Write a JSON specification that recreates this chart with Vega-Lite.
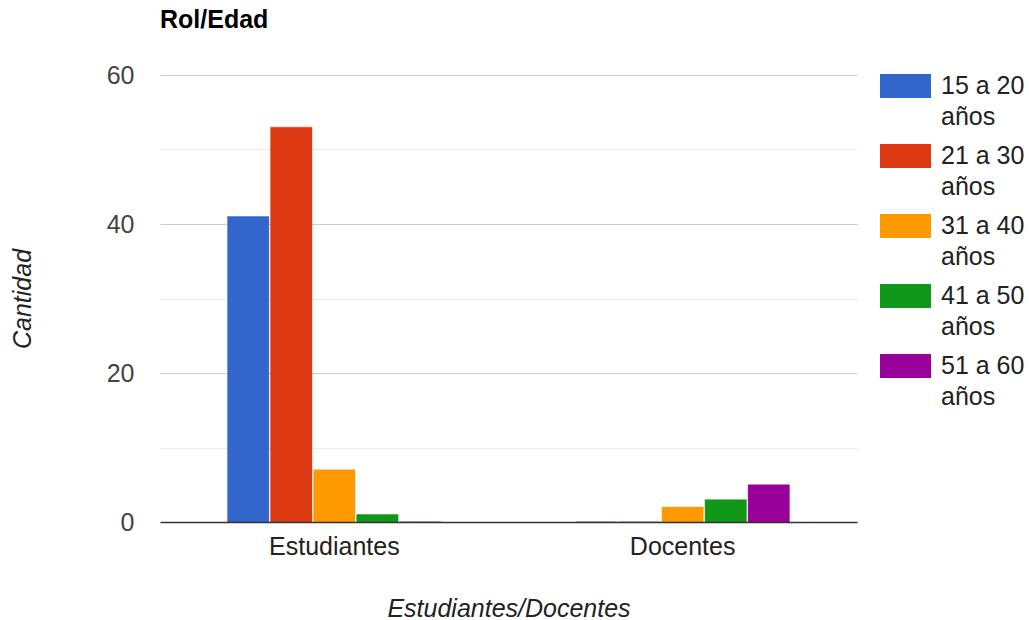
{
  "$schema": "https://vega.github.io/schema/vega-lite/v6.json",
  "width": 697,
  "height": 447,
  "autosize": {"type": "none"},
  "padding": {"left": 160, "top": 75, "right": 172, "bottom": 98},
  "background": "white",
  "config": {"view": {"stroke": null}, "font": "Liberation Sans"},
  "title": {"text": "Rol/Edad", "anchor": "start", "frame": "group", "font": "Liberation Sans", "fontSize": 25, "fontWeight": "bold", "color": "#000000", "offset": 28},
  "data": {"values": [
    {"rol": "Estudiantes", "edad": "15 a 20 años", "cantidad": 41},
    {"rol": "Estudiantes", "edad": "21 a 30 años", "cantidad": 53},
    {"rol": "Estudiantes", "edad": "31 a 40 años", "cantidad": 7},
    {"rol": "Estudiantes", "edad": "41 a 50 años", "cantidad": 1},
    {"rol": "Estudiantes", "edad": "51 a 60 años", "cantidad": 0},
    {"rol": "Docentes", "edad": "15 a 20 años", "cantidad": 0},
    {"rol": "Docentes", "edad": "21 a 30 años", "cantidad": 0},
    {"rol": "Docentes", "edad": "31 a 40 años", "cantidad": 2},
    {"rol": "Docentes", "edad": "41 a 50 años", "cantidad": 3},
    {"rol": "Docentes", "edad": "51 a 60 años", "cantidad": 5}
  ]},
  "mark": {"type": "bar", "strokeWidth": 1, "strokeOpacity": 0.45},
  "encoding": {
    "x": {
      "field": "rol", "type": "nominal", "sort": ["Estudiantes", "Docentes"],
      "scale": {"paddingInner": 0.387, "paddingOuter": 0.194},
      "axis": {
        "title": "Estudiantes/Docentes", "labelAngle": 0, "ticks": false,
        "domainColor": "#333333", "domainWidth": 1.5, "zindex": 1,
        "labelFont": "Liberation Sans", "labelFontSize": 25, "labelColor": "#222222", "labelPadding": 12,
        "titleFont": "Liberation Sans", "titleFontSize": 25, "titleFontStyle": "italic", "titleFontWeight": "normal", "titleColor": "#222222",
        "titleY": 86, "titleBaseline": "middle"
      }
    },
    "xOffset": {
      "field": "edad", "type": "nominal",
      "sort": ["15 a 20 años", "21 a 30 años", "31 a 40 años", "41 a 50 años", "51 a 60 años"],
      "scale": {"paddingInner": 0.04, "paddingOuter": 0}
    },
    "y": {
      "field": "cantidad", "type": "quantitative",
      "scale": {"domain": [0, 60], "nice": false},
      "axis": {
        "values": [0, 10, 20, 30, 40, 50, 60],
        "labelExpr": "datum.value % 20 === 0 ? datum.label : ''",
        "grid": true,
        "gridColor": {"condition": {"test": "datum.value % 20 === 0", "value": "#cccccc"}, "value": "#ebebeb"},
        "gridWidth": 1.2,
        "domain": false, "ticks": false,
        "labelFont": "Liberation Sans", "labelFontSize": 25, "labelColor": "#444444", "labelPadding": 26,
        "title": "Cantidad",
        "titleFont": "Liberation Sans", "titleFontSize": 25, "titleFontStyle": "italic", "titleFontWeight": "normal", "titleColor": "#222222",
        "titleX": -138, "titleY": 223.5, "titleAlign": "center", "titleBaseline": "middle", "titleAngle": -90
      }
    },
    "color": {
      "field": "edad", "type": "nominal",
      "scale": {
        "domain": ["15 a 20 años", "21 a 30 años", "31 a 40 años", "41 a 50 años", "51 a 60 años"],
        "range": ["#3366cc", "#dc3912", "#ff9900", "#109618", "#990099"]
      },
      "legend": {
        "title": null, "orient": "none", "legendX": 720, "legendY": -14.5,
        "symbolType": "M-1,-0.47H1V0.47H-1Z", "symbolSize": 2601, "symbolStrokeWidth": 0, "symbolOpacity": 1,
        "labelFont": "Liberation Sans", "labelFontSize": 25, "labelColor": "#222222", "labelOffset": 10,
        "labelExpr": "[replace(datum.label, ' años', ''), 'años']",
        "labelLimit": 200, "rowPadding": -3,
        "encode": {"labels": {"update": {"lineHeight": {"value": 31}}}}
      }
    },
    "stroke": {
      "field": "edad", "type": "nominal",
      "scale": {
        "domain": ["15 a 20 años", "21 a 30 años", "31 a 40 años", "41 a 50 años", "51 a 60 años"],
        "range": ["#3366cc", "#dc3912", "#ff9900", "#109618", "#990099"]
      },
      "legend": null
    }
  }
}
